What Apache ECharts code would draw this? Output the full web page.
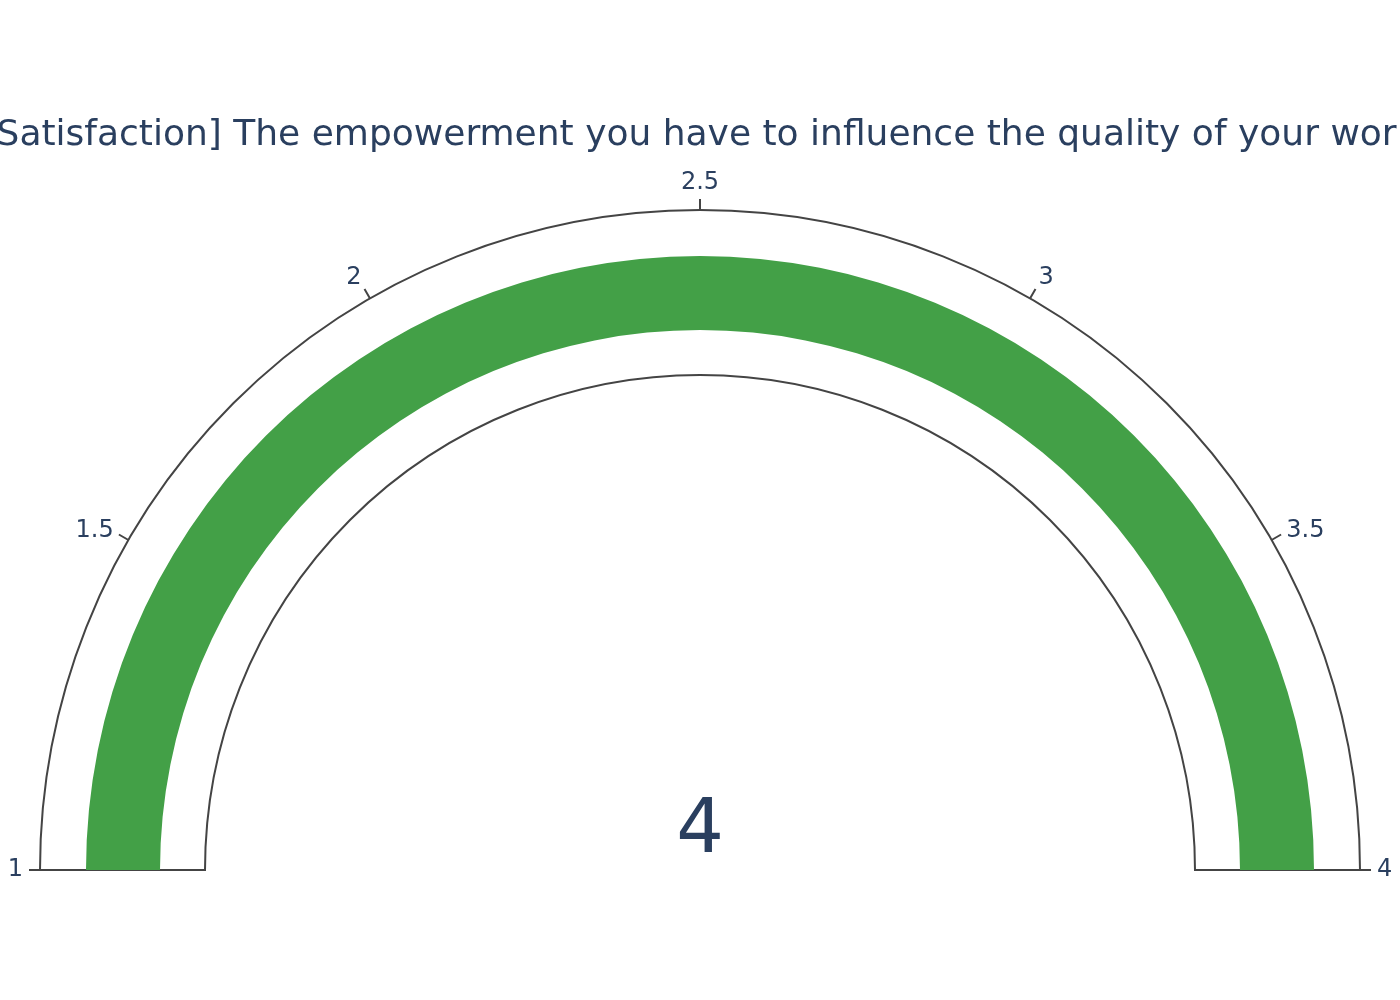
<!DOCTYPE html>
<html>
<head>
<meta charset="utf-8">
<script src="https://cdn.jsdelivr.net/npm/echarts@6/dist/echarts.min.js"></script>
<style>
html,body{margin:0;padding:0;background:#fff;}
#chart{width:1400px;height:1000px;}
</style>
</head>
<body>
<div id="chart"></div>
<script>
// ---- data ----
const chartTitle = "[Satisfaction] The empowerment you have to influence the quality of your work";
const gaugeValue = [4];
const tickValues = [1, 1.5, 2, 2.5, 3, 3.5, 4];
const rangeMin = tickValues[0];
const rangeMax = tickValues[tickValues.length - 1];

const FONT = 'DejaVu Sans';
const TXT = '#2a3f5f';
const LINE = '#444444';
const CENTER = [700, 870];

const chart = echarts.init(document.getElementById('chart'), null, {renderer: 'canvas'});

// choose a label style by the tick's angle on the half circle
function labelStyleName(v) {
  const theta = Math.PI * (1 - (v - rangeMin) / (rangeMax - rangeMin));
  const s = Math.abs(Math.sin(theta));
  if (s > 0.95) return 'top';
  if (s > 0.7) return 'upper';
  return 'lower';
}

const option = {
  backgroundColor: '#ffffff',
  animation: false,
  title: {
    text: chartTitle,
    left: 'center',
    top: 113,
    padding: [5, 17, 5, 5],
    textStyle: {fontFamily: FONT, fontSize: 36, fontWeight: 'normal', color: TXT}
  },
  polar: {center: CENTER, radius: 660},
  angleAxis: {
    type: 'value',
    min: rangeMin,
    max: rangeMax,
    interval: tickValues[1] - tickValues[0],
    startAngle: 180,
    endAngle: 0,
    clockwise: true,
    axisLine: {show: false},
    axisTick: {show: true, length: 11, lineStyle: {color: LINE, width: 2}},
    axisLabel: {
      show: true, margin: 17, color: TXT, fontFamily: FONT, fontSize: 24,
      formatter: function (v) { return '{' + labelStyleName(v) + '|' + v + '}'; },
      rich: {
        top: {fontFamily: FONT, fontSize: 24, color: TXT, lineHeight: 21},
        upper: {fontFamily: FONT, fontSize: 24, color: TXT, lineHeight: 11},
        lower: {fontFamily: FONT, fontSize: 24, color: TXT, lineHeight: 2}
      }
    },
    splitLine: {show: false}
  },
  radiusAxis: {type: 'value', min: 0, max: 1, show: false},
  series: [
    {
      // gauge outline band
      type: 'gauge',
      center: CENTER,
      radius: 660,
      startAngle: 180,
      endAngle: 0,
      min: rangeMin,
      max: rangeMax,
      pointer: {show: false},
      anchor: {show: false},
      axisLine: {show: false, lineStyle: {width: 0}},
      axisTick: {show: false},
      splitLine: {show: false},
      axisLabel: {show: false},
      title: {show: false},
      detail: {show: false},
      progress: {
        show: true, width: 165, roundCap: false, clip: false,
        itemStyle: {color: '#ffffff', borderColor: LINE, borderWidth: 2}
      },
      data: [{value: rangeMax}],
      z: 1
    },
    {
      // value bar
      type: 'gauge',
      center: CENTER,
      radius: 614,
      startAngle: 180,
      endAngle: 0,
      min: rangeMin,
      max: rangeMax,
      pointer: {show: false},
      anchor: {show: false},
      axisLine: {show: false, lineStyle: {width: 0}},
      axisTick: {show: false},
      splitLine: {show: false},
      axisLabel: {show: false},
      title: {show: false},
      detail: {
        show: true,
        offsetCenter: [0, -37],
        fontFamily: FONT,
        fontSize: 75,
        fontWeight: 'normal',
        color: TXT,
        formatter: '{value}'
      },
      progress: {
        show: true, width: 74, roundCap: false, clip: false,
        itemStyle: {color: '#43a047', borderWidth: 0}
      },
      data: gaugeValue.map(v => ({value: v})),
      z: 2
    }
  ]
};
chart.setOption(option);
</script>
</body>
</html>
